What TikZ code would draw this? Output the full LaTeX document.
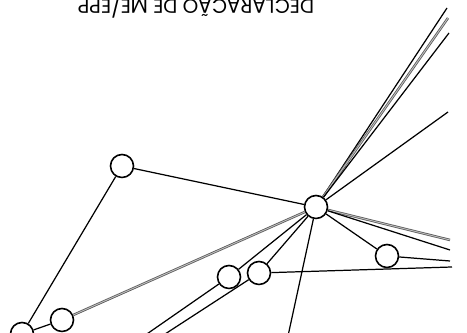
\documentclass[tikz,border=0pt]{standalone}
\usepackage{fontspec}
\setmainfont{Poppins}
\begin{document}
\begin{tikzpicture}[x=0.02cm, y=-0.02cm,
	knoten/.style={circle, draw, line width=0.9pt, fill=white, minimum size=0.46cm, inner sep=0pt},
	kante/.style={line width=0.7pt},
	grau/.style={draw=black!65, double=black!25, double distance=0.5pt, line width=0.45pt}]
	\useasboundingbox (0,0) rectangle (467,333);
	
	% Titel (auf dem Kopf)
	\node[rotate=180, anchor=base, font=\fontsize{11.3}{13}\selectfont] (titel) at (196,-0.5) {DECLARAÇÃO DE ME/EPP};
	
	% Knoten
	\node[knoten] (a) at (122,166) {};
	\node[knoten] (h) at (316,207) {};
	\node[knoten] (b) at (387,256) {};
	\node[knoten] (c) at (259,273) {};
	\node[knoten] (d) at (229,277) {};
	\node[knoten] (e) at (62,320) {};
	\node[knoten] (f) at (22,334) {};
	
	% freie Enden
	\coordinate (r1) at (447,8);
	\coordinate (r2) at (448,18);
	\coordinate (r3) at (449,33);
	\coordinate (r4) at (448,112);
	\coordinate (r5) at (450,240);
	\coordinate (r6) at (450,250);
	\coordinate (r7) at (450,261);
	\coordinate (r8) at (452,267);
	\coordinate (u1) at (288,336);
	\coordinate (u2) at (144,336);
	\coordinate (u3) at (162,336);
	
	% Kanten
	\draw[kante] (a) -- (h);
	\draw[kante] (a) -- (f);
	\draw[kante] (e) -- (f);
	\draw[grau] (e) -- (h);
	\draw[kante] (d) -- (h);
	\draw[kante] (c) -- (h);
	\draw[kante] (b) -- (h);
	\draw[kante] (d) -- (u2);
	\draw[kante] (c) -- (u3);
	\draw[kante] (c) -- (r8);
	\draw[kante] (b) -- (r7);
	\draw[grau] (h) -- (r5);
	\draw[kante] (h) -- (r6);
	\draw[kante] (h) -- (u1);
	\draw[kante] (h) -- (r1);
	\draw[grau] (h) -- (r2);
	\draw[kante] (h) -- (r3);
	\draw[kante] (h) -- (r4);
\end{tikzpicture}
\end{document}
